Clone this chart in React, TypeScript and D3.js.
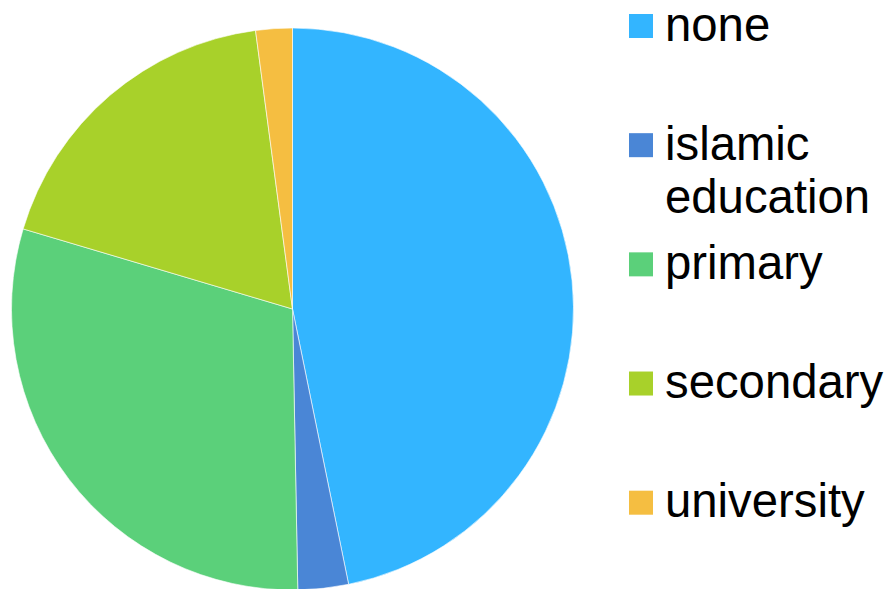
import React from "react";
import * as d3 from "d3";

const categories = ["none", "islamic education", "primary", "secondary", "university"];
const values = [46.8, 2.9, 29.9, 18.3, 2.1];
const colors = ["#33b5ff", "#4a86d6", "#5bd07a", "#a8d12a", "#f5be41"];
// legend labels broken into lines
const legendLines = [["none"], ["islamic", "education"], ["primary"], ["secondary"], ["university"]];

const W = 889;
const H = 589;
const cx = 292.5;
const cy = 309;
const R = 281;

export default function App() {
  const pie = d3.pie<number>().sort(null).value((d) => d);
  const arcs = pie(values);
  const arc = d3.arc<d3.PieArcDatum<number>>().innerRadius(0).outerRadius(R);

  const legendY = d3.scaleLinear().domain([0, 4]).range([26, 502.7]);

  return (
    <svg
      width={W}
      height={H}
      style={{ position: "absolute", left: 0, top: 0, background: "#fff" }}
      fontFamily="'Liberation Sans', Arial, sans-serif"
    >
      <g transform={`translate(${cx},${cy})`}>
        {arcs.map((a, i) => (
          <path
            key={categories[i]}
            d={arc(a) || ""}
            fill={colors[i]}
            stroke="#ffffff"
            strokeOpacity={0.6}
            strokeWidth={1}
          />
        ))}
      </g>
      <g>
        {categories.map((c, i) => {
          const y = legendY(i);
          return (
            <g key={c}>
              <rect x={629} y={y - 12} width={24} height={24} fill={colors[i]} />
              {legendLines[i].map((line, j) => (
                <text key={line} x={665} y={y + 14.5 + j * 53} fontSize={47.3} fill="#000">
                  {line}
                </text>
              ))}
            </g>
          );
        })}
      </g>
    </svg>
  );
}
